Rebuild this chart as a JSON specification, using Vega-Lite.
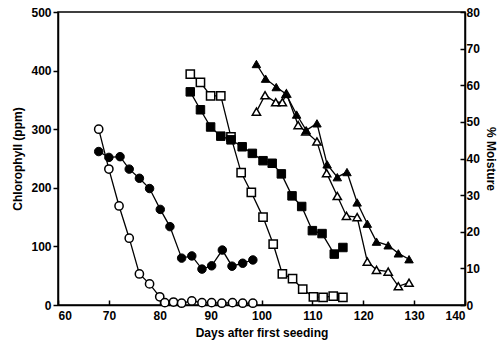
{
  "$schema": "https://vega.github.io/schema/vega-lite/v6.json",
  "autosize": {"type": "none"},
  "padding": {"left": 58, "top": 12, "right": 36, "bottom": 40},
  "width": 407,
  "height": 293,
  "background": "white",
  "config": {
    "view": {"stroke": "black", "strokeWidth": 1.5},
    "font": "Liberation Sans",
    "axis": {
      "labelFont": "Liberation Sans", "titleFont": "Liberation Sans",
      "labelFontSize": 12, "titleFontSize": 12, "labelColor": "black", "titleColor": "black",
      "labelFontWeight": "bold", "titleFontWeight": "bold",
      "domainColor": "black", "domainWidth": 1.5, "tickColor": "black", "tickWidth": 1.5,
      "grid": false
    }
  },
  "datasets": {
    "chl": [
      {"sym": "circle", "day": 68, "v": 300}, {"sym": "circle", "day": 70, "v": 232}, {"sym": "circle", "day": 72, "v": 169},
      {"sym": "circle", "day": 74, "v": 114}, {"sym": "circle", "day": 76, "v": 53}, {"sym": "circle", "day": 78, "v": 36},
      {"sym": "circle", "day": 80, "v": 14}, {"sym": "circle", "day": 81, "v": 4}, {"sym": "circle", "day": 82.7, "v": 5},
      {"sym": "circle", "day": 84.3, "v": 3}, {"sym": "circle", "day": 86.3, "v": 7}, {"sym": "circle", "day": 88.3, "v": 4},
      {"sym": "circle", "day": 90.2, "v": 4}, {"sym": "circle", "day": 92.2, "v": 3}, {"sym": "circle", "day": 94.3, "v": 4},
      {"sym": "circle", "day": 96.3, "v": 3}, {"sym": "circle", "day": 98.3, "v": 3},
      {"sym": "square", "day": 86, "v": 394}, {"sym": "square", "day": 88, "v": 380}, {"sym": "square", "day": 90, "v": 357},
      {"sym": "square", "day": 92, "v": 357}, {"sym": "square", "day": 94, "v": 287}, {"sym": "square", "day": 96, "v": 226},
      {"sym": "square", "day": 98, "v": 192}, {"sym": "square", "day": 100.3, "v": 150}, {"sym": "square", "day": 102.3, "v": 104},
      {"sym": "square", "day": 104.1, "v": 53}, {"sym": "square", "day": 106.1, "v": 45}, {"sym": "square", "day": 108.1, "v": 27},
      {"sym": "square", "day": 110.2, "v": 14}, {"sym": "square", "day": 112.1, "v": 13}, {"sym": "square", "day": 114.1, "v": 15},
      {"sym": "square", "day": 116, "v": 13},
      {"sym": "triangle", "day": 99, "v": 330}, {"sym": "triangle", "day": 100.7, "v": 358}, {"sym": "triangle", "day": 102.8, "v": 346},
      {"sym": "triangle", "day": 104.1, "v": 346}, {"sym": "triangle", "day": 104.9, "v": 361}, {"sym": "triangle", "day": 107.2, "v": 307},
      {"sym": "triangle", "day": 108.7, "v": 296}, {"sym": "triangle", "day": 110.9, "v": 279}, {"sym": "triangle", "day": 112.8, "v": 225},
      {"sym": "triangle", "day": 114.9, "v": 186}, {"sym": "triangle", "day": 116.7, "v": 152}, {"sym": "triangle", "day": 118.8, "v": 150},
      {"sym": "triangle", "day": 120.8, "v": 74}, {"sym": "triangle", "day": 122.6, "v": 60}, {"sym": "triangle", "day": 124.9, "v": 57},
      {"sym": "triangle", "day": 126.9, "v": 32}, {"sym": "triangle", "day": 129, "v": 38}
    ],
    "moist": [
      {"sym": "circle", "day": 68, "v": 41.9}, {"sym": "circle", "day": 70, "v": 40.3}, {"sym": "circle", "day": 72.2, "v": 40.5},
      {"sym": "circle", "day": 74, "v": 37.1}, {"sym": "circle", "day": 76, "v": 34.6}, {"sym": "circle", "day": 78, "v": 31.8},
      {"sym": "circle", "day": 80.1, "v": 26.1}, {"sym": "circle", "day": 82, "v": 21.4}, {"sym": "circle", "day": 84.3, "v": 12.8},
      {"sym": "circle", "day": 86.3, "v": 13.4}, {"sym": "circle", "day": 88.3, "v": 9.8}, {"sym": "circle", "day": 90.2, "v": 10.7},
      {"sym": "circle", "day": 92.3, "v": 15}, {"sym": "circle", "day": 94.2, "v": 10.6}, {"sym": "circle", "day": 96.3, "v": 11.4},
      {"sym": "circle", "day": 98.3, "v": 12.3},
      {"sym": "square", "day": 86, "v": 58.2}, {"sym": "square", "day": 88, "v": 53.3}, {"sym": "square", "day": 90, "v": 48.6},
      {"sym": "square", "day": 92, "v": 46.1}, {"sym": "square", "day": 94, "v": 45.1}, {"sym": "square", "day": 96.2, "v": 43.2},
      {"sym": "square", "day": 98.2, "v": 41.4}, {"sym": "square", "day": 100.3, "v": 39.4}, {"sym": "square", "day": 102.1, "v": 38.7},
      {"sym": "square", "day": 103.9, "v": 35.8}, {"sym": "square", "day": 106, "v": 29.8}, {"sym": "square", "day": 107.9, "v": 26.9},
      {"sym": "square", "day": 110, "v": 20.3}, {"sym": "square", "day": 111.9, "v": 19.5}, {"sym": "square", "day": 114.3, "v": 13.9},
      {"sym": "square", "day": 116, "v": 15.7},
      {"sym": "triangle", "day": 99, "v": 65.8}, {"sym": "triangle", "day": 100.8, "v": 61.8}, {"sym": "triangle", "day": 102.9, "v": 59.5},
      {"sym": "triangle", "day": 104.8, "v": 57.6}, {"sym": "triangle", "day": 106.9, "v": 52}, {"sym": "triangle", "day": 108.8, "v": 47.7},
      {"sym": "triangle", "day": 110.9, "v": 49.6}, {"sym": "triangle", "day": 112.9, "v": 38.4}, {"sym": "triangle", "day": 114.9, "v": 34.9},
      {"sym": "triangle", "day": 116.8, "v": 36.3}, {"sym": "triangle", "day": 118.8, "v": 28}, {"sym": "triangle", "day": 120.8, "v": 22.2},
      {"sym": "triangle", "day": 122.6, "v": 17.3}, {"sym": "triangle", "day": 124.9, "v": 16.3}, {"sym": "triangle", "day": 126.9, "v": 14.1},
      {"sym": "triangle", "day": 129, "v": 12.5}
    ]
  },
  "encoding": {
    "x": {
      "field": "day", "type": "quantitative",
      "scale": {"domain": [60, 140], "nice": false, "zero": false},
      "axis": {"values": [60, 70, 80, 90, 100, 110, 120, 130, 140], "tickSize": -5, "labelPadding": 10, "title": "Days after first seeding", "titlePadding": 6}
    }
  },
  "layer": [
    {
      "data": {"name": "chl"},
      "encoding": {
        "y": {
          "field": "v", "type": "quantitative",
          "scale": {"domain": [0, 500], "nice": false},
          "axis": {"orient": "left", "values": [0, 100, 200, 300, 400, 500], "tickSize": 5, "labelPadding": 2, "title": "Chlorophyll (ppm)", "titlePadding": 6}
        }
      },
      "layer": [
        {"mark": {"type": "line", "color": "black", "strokeWidth": 1.3}, "encoding": {"detail": {"field": "sym"}}},
        {
          "mark": {"type": "point", "filled": true, "fill": "white", "stroke": "black", "strokeWidth": 1.5, "size": 68, "opacity": 1},
          "encoding": {
            "shape": {"field": "sym", "type": "nominal", "scale": {"domain": ["circle", "square", "triangle"], "range": ["circle", "square", "triangle-up"]}, "legend": null}
          }
        }
      ]
    },
    {
      "data": {"name": "moist"},
      "encoding": {
        "y": {
          "field": "v", "type": "quantitative",
          "scale": {"domain": [0, 80], "nice": false},
          "axis": {"orient": "right", "values": [0, 10, 20, 30, 40, 50, 60, 70, 80], "tickSize": -5, "labelPadding": 6, "title": "% Moisture", "titlePadding": 4}
        }
      },
      "layer": [
        {"mark": {"type": "line", "color": "black", "strokeWidth": 1.3}, "encoding": {"detail": {"field": "sym"}}},
        {
          "mark": {"type": "point", "filled": true, "fill": "black", "stroke": "black", "strokeWidth": 1, "size": 72, "opacity": 1},
          "encoding": {
            "shape": {"field": "sym", "type": "nominal", "scale": {"domain": ["circle", "square", "triangle"], "range": ["circle", "square", "triangle-up"]}, "legend": null}
          }
        }
      ]
    }
  ],
  "resolve": {"scale": {"y": "independent"}}
}
